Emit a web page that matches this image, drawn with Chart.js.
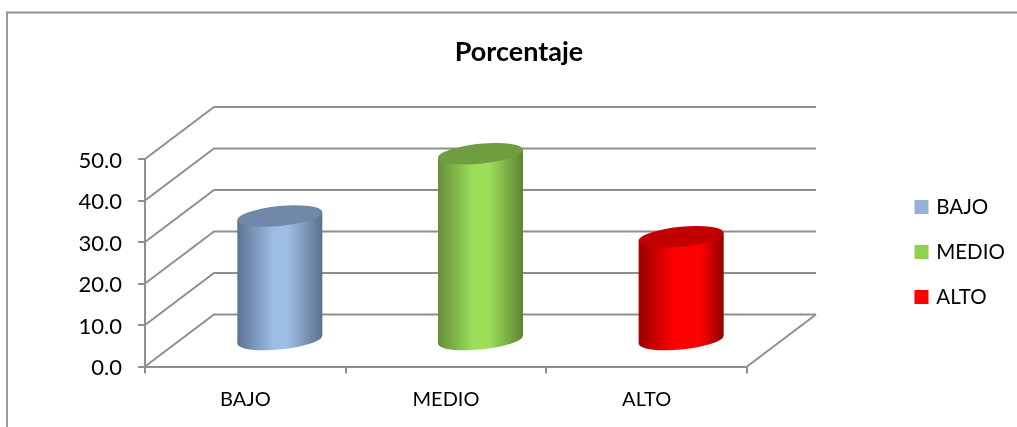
<!DOCTYPE html>
<html>
<head>
<meta charset="utf-8">
<script src="https://cdn.jsdelivr.net/npm/chart.js@4/dist/chart.umd.min.js"></script>
<style>html,body{margin:0;padding:0;background:#fff}canvas{display:block}</style>
</head>
<body>
<canvas id="c" width="1017" height="427"></canvas>
<script>
const categories = ['BAJO', 'MEDIO', 'ALTO'];
const values = [30, 45, 25];
const legendColors = ['#95B3D7', '#92D050', '#FF0000'];
const shades = [
  {edgeL:'#5a7391', mid:'#9dbde5', edgeR:'#5a708c', top:'#7188a8'},
  {edgeL:'#668f39', mid:'#9ddf5b', edgeR:'#5c8532', top:'#6f9e40'},
  {edgeL:'#9a0000', mid:'#ff0000', edgeR:'#930000', top:'#c30000'}
];
const tickFormat = v => Number(v).toFixed(1);
const GRID = '#8f8f8f';
const DX = 69, DY = -52;

const cylinder3d = {
  id: 'cylinder3d',
  beforeDraw(chart) {
    const c = chart.ctx;
    c.save();
    c.strokeStyle = '#8f8f8f'; c.lineWidth = 1.8;
    c.beginPath(); c.moveTo(7, 427); c.lineTo(7, 12.5); c.lineTo(1017, 12.5); c.stroke();
    c.restore();
  },
  afterLayout(chart) {
    const l = chart.legend;
    l.left = 892.5; l.right = 1017; l.top = 100; l.bottom = 404;
    const t = chart.titleBlock;
    t.left = 21; t.right = 1017;
  },
  beforeDatasetsDraw(chart) {
    const {ctx: c, chartArea: a, scales: {y}} = chart;
    c.save();
    c.strokeStyle = GRID; c.lineWidth = 2;
    y.ticks.forEach(t => {
      const p = y.getPixelForValue(t.value);
      c.beginPath();
      c.moveTo(a.left, p); c.lineTo(a.left + DX, p + DY); c.lineTo(a.right + DX, p + DY);
      c.stroke();
    });
    c.beginPath();
    c.moveTo(a.right, a.bottom); c.lineTo(a.right + DX, a.bottom + DY);
    c.stroke();
    c.restore();
  },
  beforeDatasetDraw(chart, args) {
    const c = chart.ctx, a = 42.7, b = 10, rot = -5.6 * Math.PI / 180;
    const t0 = Math.atan(-(b / a) * Math.tan(rot));
    const hx = a * Math.cos(t0) * Math.cos(rot) - b * Math.sin(t0) * Math.sin(rot);
    const hy = a * Math.cos(t0) * Math.sin(rot) + b * Math.sin(t0) * Math.cos(rot);
    args.meta.data.forEach((bar, i) => {
      const s = shades[i], cx = bar.x + DX / 2;
      const top = bar.y + DY / 2, base = bar.base + DY / 2;
      const g = c.createLinearGradient(cx - hx, 0, cx + hx, 0);
      g.addColorStop(0, s.edgeL); g.addColorStop(0.42, s.mid);
      g.addColorStop(i === 2 ? 0.72 : 0.6, s.mid); g.addColorStop(1, s.edgeR);
      c.save();
      c.fillStyle = g;
      c.beginPath();
      c.ellipse(cx, base, a, b, rot, t0, t0 + Math.PI);
      c.lineTo(cx - hx, top - hy);
      c.lineTo(cx + hx, top + hy);
      c.closePath();
      c.fill();
      c.fillStyle = s.top;
      c.beginPath();
      c.ellipse(cx, top, a, b, rot, 0, Math.PI * 2);
      c.fill();
      c.restore();
    });
    return false;
  }
};

new Chart(document.getElementById('c'), {
  type: 'bar',
  data: {
    labels: categories,
    datasets: [{label: 'Porcentaje', data: values, backgroundColor: legendColors,
      categoryPercentage: 1, barPercentage: 0.424}]
  },
  options: {
    responsive: false,
    animation: false,
    events: [],
    layout: {padding: 0},
    plugins: {
      tooltip: {enabled: false},
      title: {
        display: true, text: 'Porcentaje', color: '#000',
        font: {family: 'Lato', size: 27, weight: 'bold', lineHeight: 1},
        padding: {top: 39, bottom: 93}
      },
      legend: {
        position: 'right',
        fullSize: false,
        labels: {
          boxWidth: 9, boxHeight: 14, padding: 24.5, color: '#000',
          usePointStyle: true, pointStyle: 'rect',
          font: {family: 'Lato', size: 20.5},
          generateLabels: ch => ch.data.labels.map((t, i) => ({
            text: t, fillStyle: legendColors[i], strokeStyle: legendColors[i],
            lineWidth: 0, hidden: false, index: i, pointStyle: 'rect'
          }))
        }
      }
    },
    scales: {
      x: {
        afterFit: s => { s.height = 60.5; },
        grid: {drawOnChartArea: false, color: GRID, lineWidth: 2, tickLength: 7},
        border: {color: GRID, width: 2},
        ticks: {color: '#000', padding: 14, font: {family: 'Lato', size: 20}}
      },
      y: {
        min: 0, max: 50,
        afterFit: s => { s.width = 145; },
        grid: {drawOnChartArea: false, color: GRID, lineWidth: 2, tickLength: 7},
        border: {color: GRID, width: 2},
        ticks: {stepSize: 10, color: '#000', padding: 16, labelOffset: 1.5, font: {family: 'Lato', size: 22}, callback: tickFormat}
      },
      spacer: {
        position: 'right',
        afterFit: s => { s.width = 270 - (s.chart.legend.width || 130); },
        grid: {display: false},
        border: {display: false},
        ticks: {display: false}
      }
    }
  },
  plugins: [cylinder3d]
});
</script>
</body>
</html>
